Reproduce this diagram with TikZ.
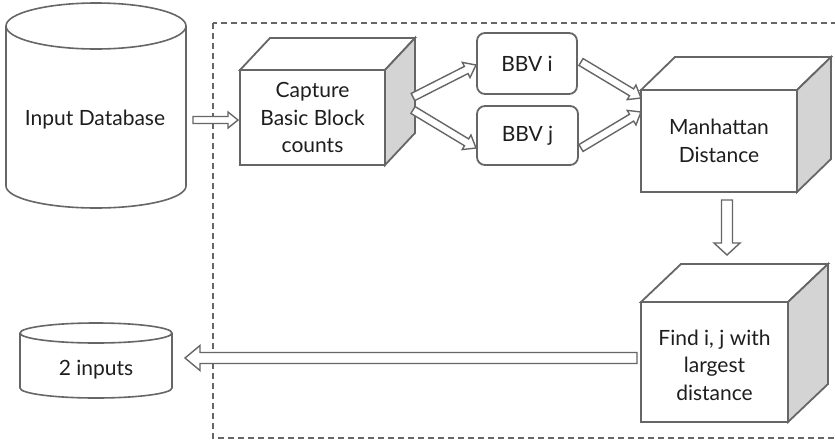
\documentclass[tikz,border=0pt]{standalone}
\usepackage{fontspec}
\setmainfont{Lato}
\usetikzlibrary{calc}
\definecolor{linegray}{HTML}{666666}
\definecolor{sidegray}{HTML}{D4D4D4}
\definecolor{txt}{HTML}{1E1E1E}
\tikzset{
  boxline/.style={draw=linegray, line width=1.8pt, line join=miter},
  front/.style={boxline, fill=white, rectangle, inner sep=0pt, outer sep=0pt, align=center, text=txt},
  bbv/.style={boxline, fill=white, rectangle, rounded corners=8pt, inner sep=0pt, outer sep=0pt, text=txt},
  lbl/.style={inner sep=0pt, text=txt, align=center},
  fat/.style={draw=linegray, line width=1.4pt, fill=white, line join=miter},
  cyl/.style={draw=linegray, line width=1.6pt, fill=white},
  frame/.style={draw=linegray, line width=1.6pt, dash pattern=on 6pt off 4pt}
}
\newcommand\cube[3]{%
  \draw[boxline, fill=white] (#1.north west) -- ++(#2,#3) -- ($(#1.north east)+(#2,#3)$) -- (#1.north east) -- cycle;
  \draw[boxline, fill=sidegray] (#1.north east) -- ++(#2,#3) -- ($(#1.south east)+(#2,#3)$) -- (#1.south east) -- cycle;
}
\newcommand\fatarrow[5]{%
  \coordinate (fabase) at ($(#2)!#5!(#1)$);
  \draw[fat] ($(#1)!#3!90:(#2)$) -- ($(fabase)!#3!-90:(#1)$) -- ($(fabase)!#4!-90:(#1)$) -- (#2)
    -- ($(fabase)!#4!90:(#1)$) -- ($(fabase)!#3!90:(#1)$) -- ($(#1)!#3!-90:(#2)$) -- cycle;
}
\begin{document}
\begin{tikzpicture}[x=1pt, y=-1pt, font=\fontsize{21}{27.5}\selectfont]
\useasboundingbox (0,0) rectangle (835,442);
\clip (0,0) rectangle (835,442);
% dashed frame
\draw[frame] (213,23) rectangle (860,438);

% Input Database cylinder
\draw[cyl] (6,26) -- (6,186) arc[start angle=180, end angle=360, x radius=90pt, y radius=22pt] -- (186,26);
\draw[cyl] (96,26) ellipse [x radius=90pt, y radius=23pt];
\node[lbl] (db) at (95,120) {Input Database};
\coordinate (dbedge) at (193,120);

% 2 inputs cylinder
\draw[cyl] (20,333) -- (20,388) arc[start angle=180, end angle=360, x radius=76pt, y radius=10pt] -- (172,333);
\draw[cyl] (96,333) ellipse [x radius=76pt, y radius=10pt];
\node[lbl] (out) at (96,370) {2 inputs};
\coordinate (outedge) at (185,358);

% boxes
\node[front, minimum width=145pt, minimum height=95pt] (cap) at (312.5,117.5) {Capture\\Basic Block\\counts};
\cube{cap}{30pt}{32pt}
\node[front, minimum width=156pt, minimum height=102pt] (man) at (719,141) {Manhattan\\Distance};
\cube{man}{34pt}{33pt}
\node[front, minimum width=147pt, minimum height=120pt] (find) at (714.5,362) {};
\cube{find}{40pt}{38pt}
\node[lbl] (findtxt) at (714.5,365) {Find i, j with\\largest\\distance};

\node[bbv, minimum width=100pt, minimum height=61pt] (bi) at (527,63.5) {BBV i};
\node[bbv, minimum width=101pt, minimum height=59pt] (bj) at (527.5,135.5) {BBV j};

% connector end points
\coordinate (capin) at (238,120);
\coordinate (capo1) at (413,97);
\coordinate (capo2) at (413,110);
\coordinate (biin) at (476,65);
\coordinate (bjin) at (476,148);
\coordinate (biout) at (581,62);
\coordinate (bjout) at (581,148);
\coordinate (manin1) at (641,98);
\coordinate (manin2) at (641,112);
\coordinate (manout) at (727,200);
\coordinate (findin) at (727,255);
\coordinate (findout) at (637,358);

% arrows
\fatarrow{dbedge}{capin}{3.5pt}{8pt}{10pt}
\fatarrow{capo1}{biin}{4pt}{8.5pt}{11pt}
\fatarrow{capo2}{bjin}{4pt}{8.5pt}{11pt}
\fatarrow{biout}{manin1}{4pt}{8.5pt}{11pt}
\fatarrow{bjout}{manin2}{4pt}{8.5pt}{11pt}
\fatarrow{manout}{findin}{5.5pt}{13pt}{12pt}
\fatarrow{findout}{outedge}{5.5pt}{12.5pt}{15pt}
\end{tikzpicture}
\end{document}
